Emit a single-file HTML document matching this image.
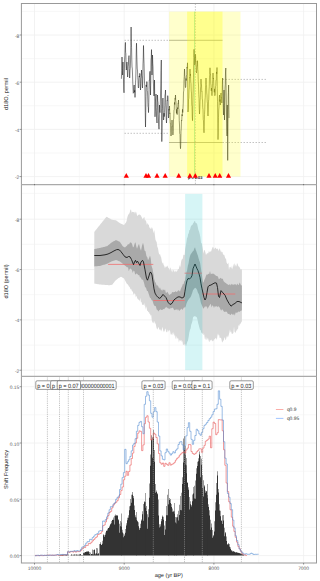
<!DOCTYPE html>
<html><head><meta charset="utf-8"><style>
html,body{margin:0;padding:0;background:#fff;}
svg{display:block;font-family:"Liberation Sans",sans-serif;text-rendering:geometricPrecision;}
</style></head><body>
<svg width="320" height="581" viewBox="0 0 320 581">
<rect width="320" height="581" fill="#fff"/>
<g id="p1">
<line x1="21.4" x2="316.5" y1="11.4" y2="11.4" stroke="#f4f4f4" stroke-width="0.7"/>
<line x1="21.4" x2="316.5" y1="58.6" y2="58.6" stroke="#f4f4f4" stroke-width="0.7"/>
<line x1="21.4" x2="316.5" y1="105.8" y2="105.8" stroke="#f4f4f4" stroke-width="0.7"/>
<line x1="21.4" x2="316.5" y1="153" y2="153" stroke="#f4f4f4" stroke-width="0.7"/>
<line x1="79.35" x2="79.35" y1="3.5" y2="184.7" stroke="#f4f4f4" stroke-width="0.7"/>
<line x1="169.05" x2="169.05" y1="3.5" y2="184.7" stroke="#f4f4f4" stroke-width="0.7"/>
<line x1="258.75" x2="258.75" y1="3.5" y2="184.7" stroke="#f4f4f4" stroke-width="0.7"/>
<line x1="21.4" x2="316.5" y1="35" y2="35" stroke="#efefef" stroke-width="0.8"/>
<line x1="21.4" x2="316.5" y1="82.2" y2="82.2" stroke="#efefef" stroke-width="0.8"/>
<line x1="21.4" x2="316.5" y1="129.4" y2="129.4" stroke="#efefef" stroke-width="0.8"/>
<line x1="21.4" x2="316.5" y1="176.6" y2="176.6" stroke="#efefef" stroke-width="0.8"/>
<line x1="34.5" x2="34.5" y1="3.5" y2="184.7" stroke="#efefef" stroke-width="0.8"/>
<line x1="124.2" x2="124.2" y1="3.5" y2="184.7" stroke="#efefef" stroke-width="0.8"/>
<line x1="213.9" x2="213.9" y1="3.5" y2="184.7" stroke="#efefef" stroke-width="0.8"/>
<line x1="303.6" x2="303.6" y1="3.5" y2="184.7" stroke="#efefef" stroke-width="0.8"/>
<line x1="195.4" x2="195.4" y1="3.5" y2="184.7" stroke="#9a9a9a" stroke-width="0.6" stroke-dasharray="1.4 1.4"/>
<line x1="194.5" x2="194.5" y1="11.6" y2="176.6" stroke="#20c8a0" stroke-width="0.8" opacity="0.5"/>
<g stroke="#9a9a9a" stroke-width="0.6" stroke-dasharray="1.5 1.5">
<line x1="124.5" x2="169" y1="40.3" y2="40.3"/>
<line x1="124.5" x2="169" y1="133.3" y2="133.3"/>
<line x1="222.5" x2="267.5" y1="79.4" y2="79.4"/>
<line x1="222.5" x2="267.5" y1="142.5" y2="142.5"/>
</g>
<g stroke="#8a8a8a" stroke-width="0.7">
<line x1="169" x2="222.5" y1="40.3" y2="40.3"/>
<line x1="169" x2="222.5" y1="142.5" y2="142.5"/>
</g>
<path d="M121.4,78.8 L121.7,70.26 L122,57 L122.3,68.62 L122.6,75 L122.8,71.24 L123,62 L123.25,74.07 L123.5,80 L123.75,89.02 L124,92.8 L124.3,79.43 L124.6,60 L124.87,55.16 L125.13,46.26 L125.4,42.4 L125.62,52.37 L125.85,53.79 L126.08,66.08 L126.3,70 L126.53,68.55 L126.77,62.66 L127,62 L127.3,71.01 L127.6,77 L127.83,75.18 L128.07,66.75 L128.3,65 L128.53,62.86 L128.77,57.29 L129,55.6 L129.3,68.39 L129.6,78 L129.8,77.01 L130,70 L130.25,68.68 L130.5,62 L130.8,45.82 L131.1,27 L131.33,40.75 L131.57,47.73 L131.8,60 L132.03,67.01 L132.27,68.09 L132.5,74 L132.75,81.96 L133,88 L133.25,93.26 L133.5,92.7 L133.73,91.56 L133.97,86.12 L134.2,85 L134.47,92.29 L134.73,90.35 L135,97.4 L135.23,93.21 L135.47,82.69 L135.7,80 L135.97,69.9 L136.23,52.99 L136.5,43.2 L136.75,54.02 L137,62 L137.25,69.07 L137.5,70 L137.75,77.51 L138,80 L138.25,87.13 L138.5,88 L138.73,86.96 L138.97,78.37 L139.2,76 L139.47,77.1 L139.73,73.33 L140,74 L140.25,83.29 L140.5,90 L140.75,86.11 L141,78.36 L141.25,77.31 L141.5,70 L141.75,75.47 L142,76.52 L142.25,85.22 L142.5,88 L142.75,79.03 L143,63.96 L143.25,58.16 L143.5,45.5 L143.77,57 L144.03,63.13 L144.3,75 L144.53,83.21 L144.77,85.25 L145,92 L145.25,112.64 L145.5,127 L145.73,114.01 L145.97,96.36 L146.2,85 L146.47,86.72 L146.73,81.73 L147,81.6 L147.27,90.46 L147.53,92.09 L147.8,100 L148.03,106.46 L148.27,107.42 L148.5,112.6 L148.77,102.8 L149.03,89.5 L149.3,80 L149.53,80.2 L149.77,72.8 L150,71.3 L150.25,85.8 L150.5,95 L150.75,80.54 L151,60 L151.25,57.87 L151.5,49.6 L151.75,64.03 L152,75 L152.25,66.75 L152.5,55 L152.75,63.14 L153,67 L153.25,78.7 L153.5,85 L153.75,91.7 L154,96 L154.25,90.64 L154.5,80 L154.75,101.15 L155,116.8 L155.25,111.29 L155.5,100 L155.75,98.04 L156,94 L156.25,107.58 L156.5,115 L156.75,120.16 L157,123 L157.25,110.72 L157.5,95 L157.75,100.98 L158,102.3 L158.25,114.17 L158.5,120 L158.75,126.32 L159,129.2 L159.25,120.13 L159.5,105 L159.75,110.98 L160,112.6 L160.25,105.46 L160.5,95 L160.77,85 L161.03,70.31 L161.3,60 L161.55,101.94 L161.8,141.6 L162.05,127.09 L162.3,110 L162.53,108.5 L162.77,98.81 L163,98 L163.25,110.32 L163.5,120 L163.75,119.22 L164,113.13 L164.25,116.61 L164.5,112.6 L164.75,105.67 L165,95 L165.25,93.99 L165.5,90 L165.75,102.29 L166,110 L166.25,119.31 L166.5,123 L166.73,117.31 L166.97,105.76 L167.2,100 L167.47,100.42 L167.73,95.65 L168,98 L168.25,109.03 L168.5,118 L168.75,117.07 L169,109.16 L169.25,110.25 L169.5,106 L169.75,113.6 L170,112.91 L170.25,123.37 L170.5,123.27 L170.75,132.2 L171,136 L171.25,133.93 L171.5,126.71 L171.75,126.85 L172,120 L172.25,125.37 L172.5,125.52 L172.75,134.45 L173,135 L173.25,131.62 L173.5,119.35 L173.75,118.23 L174,110 L174.25,109.55 L174.5,102.41 L174.75,104.53 L175,98.39 L175.25,99.36 L175.5,95 L175.73,100.62 L175.97,101.86 L176.2,108 L176.47,113.34 L176.73,109.22 L177,114.5 L177.25,114.45 L177.5,107.59 L177.75,108.97 L178,103.67 L178.25,103.99 L178.5,100 L178.75,108.96 L179,109.6 L179.25,120.52 L179.5,125 L179.75,133.65 L180,134.15 L180.25,145.29 L180.5,148.7 L180.75,143.97 L181,131.69 L181.25,128.95 L181.5,120 L181.75,120.54 L182,114.41 L182.25,116.05 L182.5,109.32 L182.75,112.51 L183,108 L183.25,103.12 L183.5,91.92 L183.75,90.92 L184,79.74 L184.25,76.49 L184.5,69 L184.75,75.84 L185,76.78 L185.25,85.41 L185.5,87.6 L185.75,86.45 L186,78.51 L186.25,80.56 L186.5,75 L186.75,74.7 L187,67.16 L187.25,68.25 L187.5,62.8 L187.75,90.01 L188,112 L188.25,109.32 L188.5,99.26 L188.75,98.35 L189,90 L189.25,87.66 L189.5,77 L189.75,77.4 L190,69 L190.25,75.73 L190.5,74.13 L190.75,82.02 L191,83.5 L191.25,91.03 L191.5,93.07 L191.75,105.16 L192,106.27 L192.25,117.01 L192.5,120.7 L192.73,113.04 L192.97,97.64 L193.2,90 L193.47,77.78 L193.73,60.16 L194,49.3 L194.27,56.79 L194.53,57.32 L194.8,65 L195.03,63.37 L195.27,55.58 L195.5,54.4 L195.75,61.75 L196,61.31 L196.25,70.92 L196.5,73 L196.75,70.95 L197,65.53 L197.25,65.72 L197.5,60.7 L197.75,69.19 L198,71.4 L198.25,81.42 L198.5,85 L198.75,94.62 L199,98.45 L199.25,108.77 L199.5,114 L199.75,109.63 L200,101.25 L200.25,97.76 L200.5,89 L200.75,86.2 L201,79 L201.25,83.89 L201.5,84.96 L201.75,91.5 L202,91.19 L202.25,98.83 L202.5,100 L202.75,107.75 L203,109.44 L203.25,119.38 L203.5,120.91 L203.75,129.2 L204,132.8 L204.25,126.18 L204.5,114.52 L204.75,109.42 L205,100 L205.25,97.32 L205.5,87.2 L205.75,84.54 L206,78 L206.25,84.58 L206.5,85.33 L206.75,92.93 L207,95 L207.25,101.97 L207.5,103.24 L207.75,113.86 L208,116 L208.25,112.29 L208.5,101.1 L208.75,99.28 L209,90 L209.25,86.85 L209.5,77.11 L209.75,74.63 L210,67.8 L210.25,74.39 L210.5,74.18 L210.75,83.8 L211,85 L211.25,90.8 L211.5,88.03 L211.75,94.77 L212,95.7 L212.25,92.99 L212.5,83.39 L212.75,79.88 L213,73 L213.25,78.98 L213.5,78.16 L213.75,85.53 L214,88 L214.25,92.29 L214.5,88.89 L214.75,95.58 L215,95.7 L215.25,93.7 L215.5,86.38 L215.75,85.54 L216,80 L216.25,80.01 L216.5,71.94 L216.75,73.74 L217,67.5 L217.25,88.53 L217.5,101.26 L217.75,123.12 L218,139.6 L218.23,132.89 L218.47,117.79 L218.7,110 L218.97,106.89 L219.23,98.33 L219.5,95 L219.77,101.5 L220.03,99.61 L220.3,105 L220.53,102.6 L220.77,94.97 L221,93 L221.27,97.57 L221.53,97.31 L221.8,103 L222.07,96.62 L222.33,84.72 L222.6,78 L222.8,89.21 L223,95 L223.25,107.81 L223.5,115 L223.75,103.49 L224,90 L224.25,107.15 L224.5,120 L224.75,105.57 L225,88 L225.27,84.39 L225.53,71.96 L225.8,68 L226.05,85.51 L226.3,100 L226.5,114.06 L226.7,125 L226.85,131.81 L227,136 L227.15,123.67 L227.3,105 L227.5,134.32 L227.7,160.4 L227.85,142.52 L228,120 L228.15,109.52 L228.3,95 L228.45,92.4 L228.6,85 L228.8,103.81 L229,118" fill="none" stroke="#111" stroke-width="0.5" stroke-linejoin="miter"/>
<rect x="169.2" y="11.6" width="71.3" height="165" fill="#ffff00" opacity="0.2"/>
<rect x="187.1" y="11.6" width="35.4" height="165" fill="#ffff00" opacity="0.3"/>
<text x="188" y="179.3" font-size="4" font-weight="bold" fill="#111" textLength="14.3" lengthAdjust="spacingAndGlyphs">p = 0.03</text>
<path d="M123.7,177.7 L128.9,177.7 L126.3,173.1 Z" fill="#ff0000"/>
<path d="M143.4,177.7 L148.6,177.7 L146,173.1 Z" fill="#ff0000"/>
<path d="M145.9,177.7 L151.1,177.7 L148.5,173.1 Z" fill="#ff0000"/>
<path d="M154.4,177.7 L159.6,177.7 L157,173.1 Z" fill="#ff0000"/>
<path d="M162.6,177.7 L167.8,177.7 L165.2,173.1 Z" fill="#ff0000"/>
<path d="M176.15,177.7 L181.35,177.7 L178.75,173.1 Z" fill="#ff0000"/>
<path d="M187.3,177.7 L192.5,177.7 L189.9,173.1 Z" fill="#ff0000"/>
<path d="M192.7,177.7 L197.9,177.7 L195.3,173.1 Z" fill="#ff0000"/>
<path d="M206.4,177.7 L211.6,177.7 L209,173.1 Z" fill="#ff0000"/>
<path d="M212.65,177.7 L217.85,177.7 L215.25,173.1 Z" fill="#ff0000"/>
<path d="M217.15,177.7 L222.35,177.7 L219.75,173.1 Z" fill="#ff0000"/>
<path d="M225.9,177.7 L231.1,177.7 L228.5,173.1 Z" fill="#ff0000"/>
</g>
<g id="p2">
<line x1="21.4" x2="316.5" y1="193.4" y2="193.4" stroke="#f4f4f4" stroke-width="0.7"/>
<line x1="21.4" x2="316.5" y1="244.37" y2="244.37" stroke="#f4f4f4" stroke-width="0.7"/>
<line x1="21.4" x2="316.5" y1="294.71" y2="294.71" stroke="#f4f4f4" stroke-width="0.7"/>
<line x1="21.4" x2="316.5" y1="345.05" y2="345.05" stroke="#f4f4f4" stroke-width="0.7"/>
<line x1="79.35" x2="79.35" y1="184.7" y2="376.3" stroke="#f4f4f4" stroke-width="0.7"/>
<line x1="169.05" x2="169.05" y1="184.7" y2="376.3" stroke="#f4f4f4" stroke-width="0.7"/>
<line x1="258.75" x2="258.75" y1="184.7" y2="376.3" stroke="#f4f4f4" stroke-width="0.7"/>
<line x1="21.4" x2="316.5" y1="219.2" y2="219.2" stroke="#efefef" stroke-width="0.8"/>
<line x1="21.4" x2="316.5" y1="269.54" y2="269.54" stroke="#efefef" stroke-width="0.8"/>
<line x1="21.4" x2="316.5" y1="319.88" y2="319.88" stroke="#efefef" stroke-width="0.8"/>
<line x1="21.4" x2="316.5" y1="370.22" y2="370.22" stroke="#efefef" stroke-width="0.8"/>
<line x1="34.5" x2="34.5" y1="184.7" y2="376.3" stroke="#efefef" stroke-width="0.8"/>
<line x1="124.2" x2="124.2" y1="184.7" y2="376.3" stroke="#efefef" stroke-width="0.8"/>
<line x1="213.9" x2="213.9" y1="184.7" y2="376.3" stroke="#efefef" stroke-width="0.8"/>
<line x1="303.6" x2="303.6" y1="184.7" y2="376.3" stroke="#efefef" stroke-width="0.8"/>
<path d="M94.3,231.9 L94.85,231.21 L95.41,230.52 L95.96,229.83 L96.52,229.14 L97.07,228.45 L97.63,227.75 L98.18,227.06 L98.74,226.37 L99.29,225.68 L99.85,224.99 L100.4,224.3 L100.95,223.61 L101.51,222.92 L102.06,222.23 L102.62,221.54 L103.17,220.85 L103.73,220.15 L104.28,219.46 L104.84,218.77 L105.39,218.08 L105.95,217.39 L106.5,216.7 L107.05,217.01 L107.6,217.32 L108.15,217.63 L108.7,217.94 L109.25,218.25 L109.8,218.56 L110.35,218.87 L110.9,219.18 L111.45,219.49 L112,219.8 L112.57,219.87 L113.14,219.94 L113.71,220.01 L114.29,220.09 L114.86,220.16 L115.43,220.23 L116,220.3 L116.57,220.73 L117.14,221.16 L117.71,221.59 L118.29,222.01 L118.86,222.44 L119.43,222.87 L120,223.3 L120.57,223.54 L121.14,223.79 L121.71,224.03 L122.29,224.27 L122.86,224.51 L123.43,224.76 L124,225 L124.67,224.13 L125.33,223.27 L126,222.4 L126.67,220.67 L127.33,217.27 L128,215.25 L128.75,213.88 L129.5,213.35 L130.25,210.17 L131,209.24 L131.67,212.66 L132.33,211.76 L133,212.02 L133.67,212.26 L134.33,211.77 L135,214.08 L135.67,211.62 L136.33,212.6 L137,215.3 L137.67,215.97 L138.33,214.86 L139,214.8 L139.67,214.49 L140.33,214.97 L141,215.64 L141.55,216.93 L142.1,217.88 L142.65,219.25 L143.2,218.5 L143.75,217.56 L144.38,217.1 L145,221.12 L145.62,219.72 L146.25,221.69 L146.88,225.02 L147.5,222.66 L148.12,225.29 L148.75,224.07 L149.38,228.07 L150,227.16 L150.62,229.12 L151.25,228.74 L151.88,226.97 L152.5,228.52 L153.12,230.48 L153.75,233.22 L154.31,229.66 L154.88,235.21 L155.44,239.44 L156,241.07 L156.67,241.98 L157.33,246.77 L158,248.13 L158.67,252.52 L159.33,254.74 L160,254.02 L160.6,256.35 L161.2,257.45 L161.8,261.21 L162.4,263.84 L163,262.22 L163.67,264.91 L164.33,265.97 L165,268.59 L165.56,266.52 L166.11,266.82 L166.67,266.76 L167.22,265.61 L167.78,266.45 L168.33,267.95 L168.89,268.2 L169.44,270.54 L170,267.99 L170.56,267.56 L171.11,271.78 L171.67,270.12 L172.22,269.73 L172.78,272.41 L173.33,270.3 L173.89,269.74 L174.44,271.44 L175,272.49 L175.56,270.87 L176.11,270.58 L176.67,272.27 L177.22,270.71 L177.78,269.82 L178.33,268.83 L178.89,269.17 L179.44,264.79 L180,267.48 L180.57,265.7 L181.14,261.38 L181.71,259.45 L182.29,259.2 L182.86,258.16 L183.43,254.76 L184,254.82 L184.6,255.16 L185.2,248.83 L185.8,245.5 L186.4,242.48 L187,238.01 L187.6,237.28 L188.2,234.11 L188.8,233.36 L189.4,230 L190,229.95 L190.6,227.16 L191.2,225.63 L191.8,225.23 L192.4,224.99 L193,223.39 L193.67,222.64 L194.33,221.22 L195,221.12 L195.67,223 L196.33,223.16 L197,223.52 L197.67,226.42 L198.33,229.64 L199,231.55 L199.67,233.89 L200.33,236.99 L201,242.67 L201.67,243.15 L202.33,246.01 L203,249.89 L203.6,253.63 L204.2,249.94 L204.8,250.36 L205.4,252.55 L206,255.06 L206.57,254.05 L207.14,253.04 L207.71,253.45 L208.29,253.22 L208.86,250.91 L209.43,252.55 L210,251.1 L210.57,251.66 L211.14,251.54 L211.71,249.5 L212.29,247.95 L212.86,246.7 L213.43,247.23 L214,249.49 L214.57,248.49 L215.14,247.92 L215.71,247.51 L216.29,249.08 L216.86,248.74 L217.43,248.47 L218,249.39 L218.57,251.16 L219.14,248.48 L219.71,248.63 L220.29,252 L220.86,249.22 L221.43,252.51 L222,251.76 L222.57,252.36 L223.14,255.14 L223.71,254.18 L224.29,255 L224.86,256.92 L225.43,258.79 L226,258.42 L226.6,262.43 L227.2,263.84 L227.8,263.88 L228.4,262.62 L229,270.52 L229.6,266.7 L230.2,267.82 L230.8,266.59 L231.4,268.82 L232,265.34 L232.6,269.39 L233.2,266.29 L233.8,264.19 L234.4,263.35 L235,267.01 L235.67,264.34 L236.33,266.66 L237,262.89 L237.67,264.07 L238.33,266.32 L239,266.52 L239.58,267.27 L240.16,268.38 L240.74,269.58 L241.32,269.12 L241.9,269.7 L241.9,322 L241.34,321.49 L240.79,324.52 L240.23,322.9 L239.67,324.46 L239.11,326.37 L238.56,324.81 L238,329.14 L237.43,328.69 L236.86,331.57 L236.29,329.51 L235.71,333.04 L235.14,332.28 L234.57,331.96 L234,326.48 L233.43,332.86 L232.86,333.69 L232.29,333.76 L231.71,333.76 L231.14,331.17 L230.57,332.42 L230,329.22 L229.43,332.27 L228.86,334.6 L228.29,336.4 L227.71,337.61 L227.14,335.52 L226.57,337.1 L226,339.51 L225.43,340.35 L224.86,337.35 L224.29,337.99 L223.71,341.08 L223.14,340.25 L222.57,342.38 L222,342.11 L221.43,339.34 L220.86,337.61 L220.29,338.08 L219.71,338.03 L219.14,334.95 L218.57,335.42 L218,333.14 L217.43,335.63 L216.86,340.05 L216.29,338.38 L215.71,337.76 L215.14,338.69 L214.57,339.33 L214,339.5 L213.43,340.98 L212.86,340.71 L212.29,341.44 L211.71,339.28 L211.14,340.83 L210.57,339.8 L210,341.32 L209.43,342.29 L208.86,338.06 L208.29,341.63 L207.71,337.6 L207.14,339.66 L206.57,339.72 L206,336.19 L205.4,339.86 L204.8,338.63 L204.2,334.35 L203.6,335.28 L203,332.62 L202.4,334.19 L201.8,333.01 L201.2,332.38 L200.6,329.99 L200,329.79 L199.4,327.76 L198.8,325.17 L198.2,323.36 L197.6,320.31 L197,317.79 L196.33,316.85 L195.67,316.7 L195,315.77 L194.33,316.39 L193.67,316.54 L193,317.5 L192.4,321.28 L191.8,323.22 L191.2,324.68 L190.6,328.48 L190,329.81 L189.33,332.44 L188.67,336.82 L188,340.39 L187.33,341.84 L186.67,343.97 L186,346.51 L185.4,344.46 L184.8,343.64 L184.2,345.84 L183.6,344.51 L183,345.08 L182.4,340.92 L181.8,341.91 L181.2,339.68 L180.6,341.15 L180,339.48 L179.44,340.42 L178.89,342.58 L178.33,338.65 L177.78,337.48 L177.22,339.16 L176.67,335.86 L176.11,338.99 L175.56,338.48 L175,334.81 L174.44,336.56 L173.89,331.74 L173.33,335.11 L172.78,332.29 L172.22,335.2 L171.67,333.45 L171.11,335.37 L170.56,333.63 L170,330.58 L169.44,329.86 L168.89,331.64 L168.33,330.72 L167.78,329.47 L167.22,332.24 L166.67,332.27 L166.11,331.39 L165.56,328.55 L165,328.96 L164.44,331.89 L163.89,330.16 L163.33,332.47 L162.78,326.85 L162.22,328.6 L161.67,329.98 L161.11,331.38 L160.56,329.84 L160,329.22 L159.38,330.04 L158.75,327.19 L158.12,327.52 L157.5,329.42 L156.94,329.06 L156.38,327.32 L155.81,324.13 L155.25,323.34 L154.69,320.76 L154.12,323.62 L153.56,323.01 L153,320.9 L152.4,323.16 L151.8,320.29 L151.2,314.82 L150.63,315.7 L150.07,313.96 L149.5,313.69 L148.93,311.75 L148.37,312.61 L147.8,310.79 L147.22,311.12 L146.63,307.89 L146.05,306.26 L145.47,309.65 L144.88,302.6 L144.3,306.3 L143.75,304.15 L143.2,305.12 L142.65,304.68 L142.1,304.72 L141.55,301.52 L141,302.82 L140.32,297.87 L139.65,301.5 L138.98,299.39 L138.3,299.68 L137.69,299.1 L137.07,297.68 L136.46,295.44 L135.84,297.62 L135.23,294.02 L134.61,293.18 L134,294.27 L133.43,294.44 L132.86,291.34 L132.29,291.85 L131.71,290.56 L131.14,288.66 L130.57,289.47 L130,287.75 L129.4,286.67 L128.8,286.35 L128.2,285.04 L127.6,284.37 L127,284 L126.4,282.88 L125.8,281.76 L125.2,280.64 L124.6,279.52 L124,278.4 L123.4,278.06 L122.8,277.72 L122.2,277.38 L121.6,277.04 L121,276.7 L120.4,277.04 L119.8,277.38 L119.2,277.72 L118.6,278.06 L118,278.4 L117.4,278.92 L116.8,279.44 L116.2,279.96 L115.6,280.48 L115,281 L114.38,281.88 L113.75,282.75 L113.12,283.62 L112.5,284.5 L111.88,284.7 L111.25,284.9 L110.62,285.1 L110,285.3 L109.44,285.26 L108.89,285.21 L108.33,285.17 L107.78,285.12 L107.22,285.08 L106.67,285.03 L106.11,284.99 L105.56,284.94 L105,284.9 L104.44,284.86 L103.89,284.81 L103.33,284.77 L102.78,284.72 L102.22,284.68 L101.67,284.63 L101.11,284.59 L100.56,284.54 L100,284.5 L99.43,284.41 L98.86,284.32 L98.29,284.23 L97.72,284.14 L97.15,284.05 L96.58,283.96 L96.01,283.87 L95.44,283.78 L94.87,283.69 L94.3,283.6 Z" fill="#d9d9d9"/>
<path d="M94.3,249.1 L95.01,248.95 L95.72,248.8 L96.44,248.65 L97.15,248.5 L97.86,248.35 L98.58,248.2 L99.29,248.05 L100,247.9 L100.7,247.73 L101.4,247.56 L102.1,247.39 L102.8,247.22 L103.5,247.05 L104.2,246.88 L104.9,246.71 L105.6,246.54 L106.3,246.37 L107,246.2 L107.71,245.63 L108.43,245.06 L109.14,244.49 L109.86,243.91 L110.57,243.34 L111.29,242.77 L112,242.2 L112.8,241.76 L113.6,241.32 L114.4,240.88 L115.2,240.44 L116,240 L116.8,240.4 L117.6,240.8 L118.4,241.2 L119.2,241.6 L120,242 L120.75,243.15 L121.5,244.3 L122.25,245.45 L123,246.6 L124,247.05 L125,247.5 L126,246.6 L127,245.7 L128,244.05 L129,244.39 L130,242.49 L131,242.48 L132,243.74 L133,247.42 L133.83,246.46 L134.67,243.56 L135.5,242.14 L136.25,246.21 L137,248.68 L138,245.91 L139,243.8 L140,248.02 L141,250.68 L142,245.7 L143,242.63 L143.75,245.6 L144.5,250.41 L145.5,251.35 L146.5,256.24 L147.25,256.93 L148,260.28 L149,258.17 L150,255.6 L150.75,258.45 L151.5,265.8 L152.5,268.72 L153.33,273.23 L154.17,278.83 L155,281.81 L155.83,283.08 L156.67,285.54 L157.5,285.31 L158.33,286.44 L159.17,288.63 L160,287.17 L160.71,289.45 L161.43,289.71 L162.14,290.99 L162.86,289.19 L163.57,289.65 L164.29,290.4 L165,289.16 L165.71,292.5 L166.43,292.89 L167.14,291.82 L167.86,292.43 L168.57,294.03 L169.29,294.93 L170,294.55 L170.71,294.09 L171.43,293.87 L172.14,292.09 L172.86,292.15 L173.57,292.33 L174.29,291.92 L175,291.88 L175.71,291.05 L176.43,292.08 L177.14,291.63 L177.86,290.79 L178.57,290.25 L179.29,290.84 L180,291.66 L180.71,289.26 L181.43,287.59 L182.14,286.36 L182.86,283.9 L183.57,284.29 L184.29,281.34 L185,280.46 L185.71,276.35 L186.43,272.83 L187.14,269.9 L187.86,265.85 L188.57,263.28 L189.29,258.75 L190,256.02 L190.71,254.29 L191.43,253.22 L192.14,252.14 L192.86,251.31 L193.57,250.63 L194.29,248.54 L195,247.34 L195.71,249.66 L196.43,251.53 L197.14,253.85 L197.86,255.58 L198.57,258.2 L199.29,260.7 L200,262.4 L200.75,267.25 L201.5,271.94 L202.25,277.53 L203,282.7 L203.75,281.85 L204.5,279.41 L205.25,277.97 L206,275.86 L206.8,274.25 L207.6,274.69 L208.4,273.87 L209.2,273.89 L210,271.11 L210.8,274.2 L211.6,273.72 L212.4,273.67 L213.2,273.48 L214,274.28 L214.8,274.61 L215.6,275.48 L216.4,276.06 L217.2,275.96 L218,276.85 L218.8,279.27 L219.6,278.82 L220.4,277.75 L221.2,278.41 L222,278.85 L222.8,278.67 L223.6,281.16 L224.4,282.05 L225.2,282.79 L226,282.94 L226.8,284.02 L227.6,284.26 L228.4,285.12 L229.2,284.7 L230,284.05 L230.8,285.49 L231.6,283.82 L232.4,284.41 L233.2,284.71 L234,284.62 L234.8,284.25 L235.6,284.35 L236.4,285.59 L237.2,283.47 L238,284.8 L238.78,285.05 L239.56,282.58 L240.34,283.8 L241.12,285.65 L241.9,284.8 L241.9,310.3 L241.12,310.83 L240.34,311.09 L239.56,312.12 L238.78,311.27 L238,312.31 L237.2,312.49 L236.4,312.76 L235.6,312.42 L234.8,315.8 L234,313.62 L233.2,314.95 L232.4,314.39 L231.6,313.5 L230.8,314.66 L230,314.88 L229.2,313.72 L228.4,313.96 L227.6,313.5 L226.8,311.59 L226,312.06 L225.2,311.6 L224.4,311.88 L223.6,311.28 L222.8,309.87 L222,309.14 L221.2,310.76 L220.4,309.2 L219.6,307.52 L218.8,306.59 L218,306.33 L217.2,307.21 L216.4,306.02 L215.6,306.82 L214.8,305.95 L214,308.08 L213.2,305.93 L212.4,305.25 L211.6,307.45 L210.8,303.78 L210,304.79 L209.2,306.04 L208.4,307.19 L207.6,308.93 L206.8,306.1 L206,307.41 L205.25,306.05 L204.5,306.92 L203.75,308.64 L203,307.7 L202,305.45 L201,303.22 L200,298.92 L199,294.5 L198,292.8 L197,289.75 L196,288.22 L195,287.85 L194,289.01 L193,290.29 L192,293.48 L191,296.23 L190.25,297.45 L189.5,298.31 L188.75,299.28 L188,300.29 L187.25,301.76 L186.5,303.49 L185.75,306.29 L185,307.85 L184.29,307.3 L183.57,308.02 L182.86,309.45 L182.14,309.77 L181.43,308.54 L180.71,309.41 L180,309.95 L179.29,311.1 L178.57,309.88 L177.86,309.12 L177.14,310.51 L176.43,309.23 L175.71,309.43 L175,310.19 L174.29,310.09 L173.57,308.88 L172.86,307.61 L172.14,307.89 L171.43,308.32 L170.71,307.63 L170,309.21 L169.29,308.46 L168.57,308.87 L167.86,307.53 L167.14,308.45 L166.43,306.74 L165.71,307.44 L165,307.93 L164.29,309.37 L163.57,308.9 L162.86,309.44 L162.14,309.9 L161.43,309.91 L160.71,309.15 L160,309.7 L159.17,310.17 L158.33,311.42 L157.5,310 L156.67,309.47 L155.83,306.3 L155,306.05 L154.17,305.54 L153.33,303.56 L152.5,300.51 L151.67,300.35 L150.83,298.17 L150,297.78 L149.25,295.58 L148.5,293.3 L147.75,290.96 L147,290.89 L146,287.81 L145,286.9 L144,282.63 L143,279.84 L142.25,279.75 L141.5,279.16 L140.75,277.21 L140,277.43 L139.2,274.95 L138.4,275.34 L137.6,274.33 L136.8,273.39 L136,273.79 L135.2,274.8 L134.4,271.33 L133.6,270.59 L132.8,273.09 L132,270.2 L131.2,268.97 L130.4,268.5 L129.6,269.02 L128.8,271.3 L128,267.01 L127.2,267.38 L126.4,266.74 L125.6,266.06 L124.8,265.38 L124,264.7 L123.2,264.06 L122.4,263.42 L121.6,262.78 L120.8,262.14 L120,261.5 L119.2,261.2 L118.4,260.9 L117.6,260.6 L116.8,260.3 L116,260 L115.2,260.24 L114.4,260.48 L113.6,260.72 L112.8,260.96 L112,261.2 L111.29,261.57 L110.57,261.94 L109.86,262.31 L109.14,262.69 L108.43,263.06 L107.71,263.43 L107,263.8 L106.3,264.01 L105.6,264.22 L104.9,264.43 L104.2,264.64 L103.5,264.85 L102.8,265.06 L102.1,265.27 L101.4,265.48 L100.7,265.69 L100,265.9 L99.29,265.96 L98.58,266.02 L97.86,266.09 L97.15,266.15 L96.44,266.21 L95.72,266.27 L95.01,266.34 L94.3,266.4 Z" fill="#a9a9a9"/>
<g stroke="#f07070" stroke-width="0.8">
<line x1="108.1" x2="153.3" y1="264.4" y2="264.4"/>
<line x1="153.3" x2="184.6" y1="300.5" y2="300.5"/>
<line x1="184.6" x2="201.9" y1="273.2" y2="273.2"/>
<line x1="201.9" x2="235.3" y1="294" y2="294"/>
</g>
<path d="M94.3,255.5 L100,255.5 L105,254.8 L108,254 L111,252.6 L114,250.9 L116.5,249.7 L118,249.5 L119.5,250 L121,251.7 L123,254.3 L125,256.9 L127,257.5 L128.5,256.5 L130,256.8 L131.5,259.5 L132.5,262 L133.5,264.7 L134.5,262 L135.5,260.3 L136.5,262.6 L137.5,261.2 L139,263.8 L140,265.5 L141,262 L142.5,260.3 L143.5,262 L145,269.8 L146.5,278.4 L147.5,280.2 L149,275.9 L150,272.4 L151,272.4 L152,275 L153,281.9 L154,288.8 L155,293.1 L156.5,295.7 L158,297.4 L159.5,298.3 L161,297.4 L163,294.4 L166,297.6 L168,302.2 L170,304.5 L172,303.4 L174,299.9 L176,298.3 L178,296.9 L180,296.9 L182,298.1 L184,296.9 L185,291.25 L186,285 L187,280.6 L188,278.5 L189.5,279 L191,277.5 L192,275.6 L193,268.75 L194,266.25 L195,264 L196,266.25 L197,268.75 L198,270.6 L199,273.75 L200,277.5 L201,283.75 L202,288.75 L203,293.1 L204,297.5 L205,300 L206,298.1 L207,292.5 L208,286.9 L209,285.6 L211,285 L213,283.75 L215,282.75 L216.5,283.1 L217.5,287.5 L218.5,296.25 L219.5,297.5 L221,290.6 L223,292.9 L225,295.2 L227,299.9 L229,303.4 L231,306.2 L233,304.5 L235,303.4 L237,301.5 L239,301.5 L241.9,302.9" fill="none" stroke="#111" stroke-width="0.85" stroke-linejoin="round"/>
<rect x="185.1" y="193.9" width="17.3" height="176.2" fill="#00bfc4" opacity="0.16"/>
</g>
<g id="p3">
<line x1="21.4" x2="316.5" y1="527.45" y2="527.45" stroke="#f4f4f4" stroke-width="0.7"/>
<line x1="21.4" x2="316.5" y1="471.15" y2="471.15" stroke="#f4f4f4" stroke-width="0.7"/>
<line x1="21.4" x2="316.5" y1="414.85" y2="414.85" stroke="#f4f4f4" stroke-width="0.7"/>
<line x1="79.35" x2="79.35" y1="376.3" y2="563.0" stroke="#f4f4f4" stroke-width="0.7"/>
<line x1="169.05" x2="169.05" y1="376.3" y2="563.0" stroke="#f4f4f4" stroke-width="0.7"/>
<line x1="258.75" x2="258.75" y1="376.3" y2="563.0" stroke="#f4f4f4" stroke-width="0.7"/>
<line x1="21.4" x2="316.5" y1="555.6" y2="555.6" stroke="#efefef" stroke-width="0.8"/>
<line x1="21.4" x2="316.5" y1="499.3" y2="499.3" stroke="#efefef" stroke-width="0.8"/>
<line x1="21.4" x2="316.5" y1="443" y2="443" stroke="#efefef" stroke-width="0.8"/>
<line x1="21.4" x2="316.5" y1="386.7" y2="386.7" stroke="#efefef" stroke-width="0.8"/>
<line x1="34.5" x2="34.5" y1="376.3" y2="563.0" stroke="#efefef" stroke-width="0.8"/>
<line x1="124.2" x2="124.2" y1="376.3" y2="563.0" stroke="#efefef" stroke-width="0.8"/>
<line x1="213.9" x2="213.9" y1="376.3" y2="563.0" stroke="#efefef" stroke-width="0.8"/>
<line x1="303.6" x2="303.6" y1="376.3" y2="563.0" stroke="#efefef" stroke-width="0.8"/>
<path d="M35,555.6V555.6H35.5V555.6ZM35.5,555.6V555.6H36V555.6ZM36,555.6V555.6H36.5V555.6ZM36.5,555.6V555.6H37V555.6ZM37,555.6V555.6H37.5V555.6ZM37.5,555.6V555.6H38V555.6ZM38,555.6V555.6H38.5V555.6ZM38.5,555.6V555.6H39V555.6ZM39,555.6V555.6H39.5V555.6ZM39.5,555.6V555.6H40V555.6ZM40,555.6V555.6H40.5V555.6ZM40.5,555.6V555.6H41V555.6ZM41,555.6V555.6H41.5V555.6ZM41.5,555.6V555.6H42V555.6ZM42,555.6V555.6H42.5V555.6ZM42.5,555.6V555.6H43V555.6ZM43,555.6V555.6H43.5V555.6ZM43.5,555.6V555.6H44V555.6ZM44,555.6V555.6H44.5V555.6ZM44.5,555.6V555.6H45V555.6ZM45,555.6V555.6H45.5V555.6ZM45.5,555.6V555.6H46V555.6ZM46,555.6V555.6H46.5V555.6ZM46.5,555.6V555.6H47V555.6ZM47,555.6V555.6H47.5V555.6ZM47.5,555.6V555.6H48V555.6ZM48,555.6V555.6H48.5V555.6ZM48.5,555.6V555.6H49V555.6ZM49,555.6V555.6H49.5V555.6ZM49.5,555.6V555.6H50V555.6ZM50,555.6V555.6H50.5V555.6ZM50.5,555.6V555.6H51V555.6ZM51,555.6V555.6H51.5V555.6ZM51.5,555.6V555.6H52V555.6ZM52,555.6V555.6H52.5V555.6ZM52.5,555.6V555.6H53V555.6ZM53,555.6V555.6H53.5V555.6ZM53.5,555.6V555.6H54V555.6ZM54,555.6V555.6H54.5V555.6ZM54.5,555.6V555.6H55V555.6ZM55,555.6V555.6H55.5V555.6ZM55.5,555.6V555.6H56V555.6ZM56,555.6V555.6H56.5V555.6ZM56.5,555.6V555.6H57V555.6ZM57,555.6V555.6H57.5V555.6ZM57.5,555.6V555.6H58V555.6ZM58,555.6V555.6H58.5V555.6ZM58.5,555.6V555.6H59V555.6ZM59,555.6V555.41H59.5V555.6ZM59.5,555.6V555.11H60V555.6ZM60,555.6V554.81H60.5V555.6ZM60.5,555.6V555.37H61V555.6ZM61,555.6V555.34H61.5V555.6ZM61.5,555.6V554.78H62V555.6ZM62,555.6V554.76H62.5V555.6ZM62.5,555.6V554.87H63V555.6ZM63,555.6V555.34H63.5V555.6ZM63.5,555.6V554.73H64V555.6ZM64,555.6V555.38H64.5V555.6ZM64.5,555.6V554.71H65V555.6ZM65,555.6V554.68H65.5V555.6ZM65.5,555.6V555.34H66V555.6ZM66,555.6V554.68H66.5V555.6ZM66.5,555.6V554.65H67V555.6ZM67,555.6V555.43H67.5V555.6ZM67.5,555.6V554.59H68V555.6ZM68,555.6V555.54H68.5V555.6ZM68.5,555.6V554.58H69V555.6ZM69,555.6V555.53H69.5V555.6ZM69.5,555.6V555.43H70V555.6ZM70,555.6V555.25H70.5V555.6ZM70.5,555.6V555.59H71V555.6ZM71,555.6V554.61H71.5V555.6ZM71.5,555.6V554.58H72V555.6ZM72,555.6V554.81H72.5V555.6ZM72.5,555.6V555.54H73V555.6ZM73,555.6V555.32H73.5V555.6ZM73.5,555.6V554.51H74V555.6ZM74,555.6V554.55H74.5V555.6ZM74.5,555.6V554.56H75V555.6ZM75,555.6V555.44H75.5V555.6ZM75.5,555.6V554.5H76V555.6ZM76,555.6V554.51H76.5V555.6ZM76.5,555.6V554.52H77V555.6ZM77,555.6V554.51H77.5V555.6ZM77.5,555.6V555.33H78V555.6ZM78,555.6V554.44H78.5V555.6ZM78.5,555.6V555.26H79V555.6ZM79,555.6V554.44H79.5V555.6ZM79.5,555.6V554.41H80V555.6ZM80,555.6V554.34H80.5V555.6ZM80.5,555.6V554.1H81V555.6ZM81,555.6V555.22H81.5V555.6ZM81.5,555.6V554.98H82V555.6ZM82,555.6V555.32H82.5V555.6ZM82.5,555.6V555.12H83V555.6ZM83,555.6V553.09H83.5V555.6ZM83.5,555.6V552.88H84V555.6ZM84,555.6V553.27H84.5V555.6ZM84.5,555.6V552.22H85V555.6ZM85,555.6V551.96H85.5V555.6ZM85.5,555.6V551.92H86V555.6ZM86,555.6V551.81H86.5V555.6ZM86.5,555.6V551.56H87V555.6ZM87,555.6V551.39H87.5V555.6ZM87.5,555.6V551.39H88V555.6ZM88,555.6V551.31H88.5V555.6ZM88.5,555.6V551.53H89V555.6ZM89,555.6V554.08H89.5V555.6ZM89.5,555.6V552.07H90V555.6ZM90,555.6V552.47H90.5V555.6ZM90.5,555.6V555.24H91V555.6ZM91,555.6V553.89H91.5V555.6ZM91.5,555.6V553.89H92V555.6ZM92,555.6V549.42H92.5V555.6ZM92.5,555.6V554.33H93V555.6ZM93,555.6V549.96H93.5V555.6ZM93.5,555.6V554.39H94V555.6ZM94,555.6V550.02H94.5V555.6ZM94.5,555.6V549.28H95V555.6ZM95,555.6V553.48H95.5V555.6ZM95.5,555.6V554.62H96V555.6ZM96,555.6V548H96.5V555.6ZM96.5,555.6V553.3H97V555.6ZM97,555.6V548.3H97.5V555.6ZM97.5,555.6V554.37H98V555.6ZM98,555.6V553.29H98.5V555.6ZM98.5,555.6V553.53H99V555.6ZM99,555.6V544.04H99.5V555.6ZM99.5,555.6V555.39H100V555.6ZM100,555.6V542.22H100.5V555.6ZM100.5,555.6V543.99H101V555.6ZM101,555.6V544.88H101.5V555.6ZM101.5,555.6V544.76H102V555.6ZM102,555.6V543.8H102.5V555.6ZM102.5,555.6V540.82H103V555.6ZM103,555.6V535.34H103.5V555.6ZM103.5,555.6V534.32H104V555.6ZM104,555.6V535.34H104.5V555.6ZM104.5,555.6V536.89H105V555.6ZM105,555.6V534.73H105.5V555.6ZM105.5,555.6V532.42H106V555.6ZM106,555.6V530.83H106.5V555.6ZM106.5,555.6V530.79H107V555.6ZM107,555.6V530.6H107.5V555.6ZM107.5,555.6V528.63H108V555.6ZM108,555.6V527.9H108.5V555.6ZM108.5,555.6V528.07H109V555.6ZM109,555.6V527.15H109.5V555.6ZM109.5,555.6V525.79H110V555.6ZM110,555.6V524.57H110.5V555.6ZM110.5,555.6V523.63H111V555.6ZM111,555.6V523.28H111.5V555.6ZM111.5,555.6V520.92H112V555.6ZM112,555.6V520.03H112.5V555.6ZM112.5,555.6V519.86H113V555.6ZM113,555.6V519.69H113.5V555.6ZM113.5,555.6V517.53H114V555.6ZM114,555.6V524.49H114.5V555.6ZM114.5,555.6V515.83H115V555.6ZM115,555.6V514.41H115.5V555.6ZM115.5,555.6V515.69H116V555.6ZM116,555.6V514.95H116.5V555.6ZM116.5,555.6V515.84H117V555.6ZM117,555.6V515.47H117.5V555.6ZM117.5,555.6V515.49H118V555.6ZM118,555.6V519.17H118.5V555.6ZM118.5,555.6V520.16H119V555.6ZM119,555.6V523.65H119.5V555.6ZM119.5,555.6V532.8H120V555.6ZM120,555.6V526.23H120.5V555.6ZM120.5,555.6V520.98H121V555.6ZM121,555.6V522.43H121.5V555.6ZM121.5,555.6V526.65H122V555.6ZM122,555.6V529.67H122.5V555.6ZM122.5,555.6V532.59H123V555.6ZM123,555.6V533.38H123.5V555.6ZM123.5,555.6V537.35H124V555.6ZM124,555.6V536H124.5V555.6ZM124.5,555.6V534.52H125V555.6ZM125,555.6V532.85H125.5V555.6ZM125.5,555.6V528.88H126V555.6ZM126,555.6V525.38H126.5V555.6ZM126.5,555.6V523.2H127V555.6ZM127,555.6V520.13H127.5V555.6ZM127.5,555.6V517.77H128V555.6ZM128,555.6V517.64H128.5V555.6ZM128.5,555.6V515.36H129V555.6ZM129,555.6V510.27H129.5V555.6ZM129.5,555.6V506.18H130V555.6ZM130,555.6V505.8H130.5V555.6ZM130.5,555.6V498.97H131V555.6ZM131,555.6V502.65H131.5V555.6ZM131.5,555.6V494.81H132V555.6ZM132,555.6V494.66H132.5V555.6ZM132.5,555.6V492.03H133V555.6ZM133,555.6V496.12H133.5V555.6ZM133.5,555.6V498.22H134V555.6ZM134,555.6V505.6H134.5V555.6ZM134.5,555.6V510.1H135V555.6ZM135,555.6V515.34H135.5V555.6ZM135.5,555.6V517.32H136V555.6ZM136,555.6V517.56H136.5V555.6ZM136.5,555.6V519.89H137V555.6ZM137,555.6V520.68H137.5V555.6ZM137.5,555.6V521.56H138V555.6ZM138,555.6V522.31H138.5V555.6ZM138.5,555.6V526.25H139V555.6ZM139,555.6V529.95H139.5V555.6ZM139.5,555.6V528.34H140V555.6ZM140,555.6V527.89H140.5V555.6ZM140.5,555.6V523.8H141V555.6ZM141,555.6V520.67H141.5V555.6ZM141.5,555.6V519.42H142V555.6ZM142,555.6V514.31H142.5V555.6ZM142.5,555.6V511.13H143V555.6ZM143,555.6V520.69H143.5V555.6ZM143.5,555.6V503.89H144V555.6ZM144,555.6V502.3H144.5V555.6ZM144.5,555.6V501.34H145V555.6ZM145,555.6V507.64H145.5V555.6ZM145.5,555.6V501.95H146V555.6ZM146,555.6V505.98H146.5V555.6ZM146.5,555.6V511.05H147V555.6ZM147,555.6V514.2H147.5V555.6ZM147.5,555.6V528.8H148V555.6ZM148,555.6V517.21H148.5V555.6ZM148.5,555.6V509.23H149V555.6ZM149,555.6V497.7H149.5V555.6ZM149.5,555.6V483.51H150V555.6ZM150,555.6V465.82H150.5V555.6ZM150.5,555.6V454.55H151V555.6ZM151,555.6V439.85H151.5V555.6ZM151.5,555.6V435.16H152V555.6ZM152,555.6V437.3H152.5V555.6ZM152.5,555.6V457.86H153V555.6ZM153,555.6V430.1H153.5V555.6ZM153.5,555.6V437.5H154V555.6ZM154,555.6V450.1H154.5V555.6ZM154.5,555.6V461.87H155V555.6ZM155,555.6V492.63H155.5V555.6ZM155.5,555.6V484.04H156V555.6ZM156,555.6V491.96H156.5V555.6ZM156.5,555.6V490.38H157V555.6ZM157,555.6V494.31H157.5V555.6ZM157.5,555.6V493.36H158V555.6ZM158,555.6V499.49H158.5V555.6ZM158.5,555.6V515.4H159V555.6ZM159,555.6V524.35H159.5V555.6ZM159.5,555.6V527.48H160V555.6ZM160,555.6V526.47H160.5V555.6ZM160.5,555.6V524.22H161V555.6ZM161,555.6V521.35H161.5V555.6ZM161.5,555.6V518.89H162V555.6ZM162,555.6V516.65H162.5V555.6ZM162.5,555.6V515.6H163V555.6ZM163,555.6V516.75H163.5V555.6ZM163.5,555.6V519.79H164V555.6ZM164,555.6V525.59H164.5V555.6ZM164.5,555.6V535.04H165V555.6ZM165,555.6V529.56H165.5V555.6ZM165.5,555.6V521.11H166V555.6ZM166,555.6V515.25H166.5V555.6ZM166.5,555.6V506.02H167V555.6ZM167,555.6V515.25H167.5V555.6ZM167.5,555.6V494.86H168V555.6ZM168,555.6V504.05H168.5V555.6ZM168.5,555.6V504.78H169V555.6ZM169,555.6V500.1H169.5V555.6ZM169.5,555.6V497.96H170V555.6ZM170,555.6V499.12H170.5V555.6ZM170.5,555.6V503.08H171V555.6ZM171,555.6V504.11H171.5V555.6ZM171.5,555.6V506.93H172V555.6ZM172,555.6V508.61H172.5V555.6ZM172.5,555.6V511.76H173V555.6ZM173,555.6V511.8H173.5V555.6ZM173.5,555.6V510.87H174V555.6ZM174,555.6V511.27H174.5V555.6ZM174.5,555.6V513.85H175V555.6ZM175,555.6V516.93H175.5V555.6ZM175.5,555.6V522.38H176V555.6ZM176,555.6V523.59H176.5V555.6ZM176.5,555.6V517.87H177V555.6ZM177,555.6V517.2H177.5V555.6ZM177.5,555.6V514.21H178V555.6ZM178,555.6V510.82H178.5V555.6ZM178.5,555.6V520.54H179V555.6ZM179,555.6V514.93H179.5V555.6ZM179.5,555.6V504.82H180V555.6ZM180,555.6V510.07H180.5V555.6ZM180.5,555.6V496.08H181V555.6ZM181,555.6V510.2H181.5V555.6ZM181.5,555.6V492.74H182V555.6ZM182,555.6V483.92H182.5V555.6ZM182.5,555.6V477.32H183V555.6ZM183,555.6V462.44H183.5V555.6ZM183.5,555.6V438.52H184V555.6ZM184,555.6V436.15H184.5V555.6ZM184.5,555.6V448.79H185V555.6ZM185,555.6V454.8H185.5V555.6ZM185.5,555.6V464.4H186V555.6ZM186,555.6V465.15H186.5V555.6ZM186.5,555.6V473.37H187V555.6ZM187,555.6V482.57H187.5V555.6ZM187.5,555.6V482.78H188V555.6ZM188,555.6V487.27H188.5V555.6ZM188.5,555.6V489.67H189V555.6ZM189,555.6V497.12H189.5V555.6ZM189.5,555.6V509.42H190V555.6ZM190,555.6V501.26H190.5V555.6ZM190.5,555.6V504.28H191V555.6ZM191,555.6V506.5H191.5V555.6ZM191.5,555.6V505.04H192V555.6ZM192,555.6V501.18H192.5V555.6ZM192.5,555.6V494.45H193V555.6ZM193,555.6V494.07H193.5V555.6ZM193.5,555.6V493.02H194V555.6ZM194,555.6V498.58H194.5V555.6ZM194.5,555.6V485.76H195V555.6ZM195,555.6V498.69H195.5V555.6ZM195.5,555.6V480.45H196V555.6ZM196,555.6V473.74H196.5V555.6ZM196.5,555.6V468.33H197V555.6ZM197,555.6V466.06H197.5V555.6ZM197.5,555.6V461.82H198V555.6ZM198,555.6V461.24H198.5V555.6ZM198.5,555.6V458.19H199V555.6ZM199,555.6V454.45H199.5V555.6ZM199.5,555.6V451.56H200V555.6ZM200,555.6V455.98H200.5V555.6ZM200.5,555.6V477.34H201V555.6ZM201,555.6V458.67H201.5V555.6ZM201.5,555.6V464.73H202V555.6ZM202,555.6V487.92H202.5V555.6ZM202.5,555.6V474.89H203V555.6ZM203,555.6V480.15H203.5V555.6ZM203.5,555.6V496.53H204V555.6ZM204,555.6V485.22H204.5V555.6ZM204.5,555.6V486.48H205V555.6ZM205,555.6V492.69H205.5V555.6ZM205.5,555.6V490.55H206V555.6ZM206,555.6V491.26H206.5V555.6ZM206.5,555.6V491.24H207V555.6ZM207,555.6V495.05H207.5V555.6ZM207.5,555.6V498.27H208V555.6ZM208,555.6V504.15H208.5V555.6ZM208.5,555.6V507.09H209V555.6ZM209,555.6V510.3H209.5V555.6ZM209.5,555.6V515.59H210V555.6ZM210,555.6V519.69H210.5V555.6ZM210.5,555.6V529.83H211V555.6ZM211,555.6V523.42H211.5V555.6ZM211.5,555.6V527.48H212V555.6ZM212,555.6V530H212.5V555.6ZM212.5,555.6V537.82H213V555.6ZM213,555.6V534.95H213.5V555.6ZM213.5,555.6V536.15H214V555.6ZM214,555.6V531.46H214.5V555.6ZM214.5,555.6V521.2H215V555.6ZM215,555.6V510.57H215.5V555.6ZM215.5,555.6V502.28H216V555.6ZM216,555.6V494.68H216.5V555.6ZM216.5,555.6V483.08H217V555.6ZM217,555.6V475.6H217.5V555.6ZM217.5,555.6V471.18H218V555.6ZM218,555.6V492.41H218.5V555.6ZM218.5,555.6V489.04H219V555.6ZM219,555.6V510.54H219.5V555.6ZM219.5,555.6V504.27H220V555.6ZM220,555.6V510.78H220.5V555.6ZM220.5,555.6V516.23H221V555.6ZM221,555.6V520.18H221.5V555.6ZM221.5,555.6V521.12H222V555.6ZM222,555.6V524.04H222.5V555.6ZM222.5,555.6V515.26H223V555.6ZM223,555.6V515.06H223.5V555.6ZM223.5,555.6V520.49H224V555.6ZM224,555.6V527.77H224.5V555.6ZM224.5,555.6V536.32H225V555.6ZM225,555.6V532.06H225.5V555.6ZM225.5,555.6V533.36H226V555.6ZM226,555.6V536.58H226.5V555.6ZM226.5,555.6V541.02H227V555.6ZM227,555.6V544.3H227.5V555.6ZM227.5,555.6V544.57H228V555.6ZM228,555.6V544.27H228.5V555.6ZM228.5,555.6V543.09H229V555.6ZM229,555.6V544H229.5V555.6ZM229.5,555.6V546.77H230V555.6ZM230,555.6V547.17H230.5V555.6ZM230.5,555.6V549.04H231V555.6ZM231,555.6V550.17H231.5V555.6ZM231.5,555.6V550.48H232V555.6ZM232,555.6V551.78H232.5V555.6ZM232.5,555.6V550.71H233V555.6ZM233,555.6V551.2H233.5V555.6ZM233.5,555.6V551.34H234V555.6ZM234,555.6V551.58H234.5V555.6ZM234.5,555.6V551.88H235V555.6ZM235,555.6V551.88H235.5V555.6ZM235.5,555.6V552.7H236V555.6ZM236,555.6V552.21H236.5V555.6ZM236.5,555.6V552.31H237V555.6ZM237,555.6V552.44H237.5V555.6ZM237.5,555.6V552.68H238V555.6ZM238,555.6V552.83H238.5V555.6ZM238.5,555.6V552.91H239V555.6ZM239,555.6V553.12H239.5V555.6ZM239.5,555.6V553.24H240V555.6ZM240,555.6V553.41H240.5V555.6ZM240.5,555.6V553.55H241V555.6ZM241,555.6V553.75H241.5V555.6ZM241.5,555.6V553.98H242V555.6ZM242,555.6V554.13H242.5V555.6ZM242.5,555.6V554.42H243V555.6ZM243,555.6V554.63H243.5V555.6ZM243.5,555.6V554.92H244V555.6ZM244,555.6V555.13H244.5V555.6ZM244.5,555.6V555.38H245V555.6Z" fill="#333333"/>
<rect x="121.2" y="513.5" width="0.45" height="42.1" fill="#333"/>
<rect x="136.2" y="512" width="0.45" height="43.6" fill="#333"/>
<rect x="145.2" y="493" width="0.45" height="62.6" fill="#333"/>
<rect x="168.2" y="489" width="0.45" height="66.6" fill="#333"/>
<rect x="174.2" y="503" width="0.45" height="52.6" fill="#333"/>
<rect x="185.3" y="446" width="0.45" height="109.6" fill="#333"/>
<rect x="186.3" y="458" width="0.45" height="97.6" fill="#333"/>
<rect x="193.2" y="487" width="0.45" height="68.6" fill="#333"/>
<rect x="207.2" y="484" width="0.45" height="71.6" fill="#333"/>
<rect x="176.5" y="517" width="0.45" height="38.6" fill="#333"/>
<path d="M35,555.6V555.39H36.3V555.68H37.6V555.62H38.9V555.5H40.2V555.32H41.5V555.64H42.8V555.63H44.1V555.42H45.4V555.4H46.7V555.21H48V555.04H49.3V555.24H50.6V555.35H51.9V555H53.2V555.43H54.5V555.05H55.8V555.03H57.1V554.88H58.4V555.47H59.7V555.28H61V555.34H62.3V555.15H63.6V554.74H64.9V554.91H66.2V555H67.5V551.66H68.8V552.42H70.1V551.74H71.4V551.46H72.7V552.12H74V551.31H75.3V552.14H76.6V551.56H77.9V551.62H79.2V551.33H80.5V550.33H81.8V548.7H83.1V547.34H84.4V547.57H85.7V545.44H87V545.43H88.3V543.26H89.6V543.7H90.9V542.3H92.2V540.77H93.5V539.54H94.8V537.93H96.1V537H97.4V534.55H98.7V534.02H100V533.49H101.3V531.64H102.6V525.72H103.9V525H105.2V521.91H106.5V518.82H107.8V515.42H109.1V512.46H110.4V511.4H111.7V507.91H113V505.08H114.3V503.26H115.6V502.25H116.9V500.66H118.2V497.72H119.5V494.52H120.8V490.61H122.1V486.97H123.4V479.79H124.7V476.18H126V471.31H127.3V475.34H128.6V471.44H129.9V465.07H131.2V458.5H132.5V453.05H133.8V446.45H135.1V442.94H136.4V438.28H137.7V433.13H139V430.9H140.3V431.36H141.6V450.63H142.9V444.9H144.2V423.66H145.5V417.33H146.8V415.78H148.1V421.99H149.4V428.28H150.7V439.99H152V438.89H153.3V433.04H154.6V434.24H155.9V437.49H157.2V443.84H158.5V453.55H159.8V462.75H161.1V464.22H162.4V462.99H163.7V466.33H165V463.27H166.3V464.35H167.6V465.32H168.9V462.78H170.2V465.14H171.5V464.32H172.8V463.69H174.1V462.31H175.4V460.09H176.7V458.34H178V457.17H179.3V455.05H180.6V453.83H181.9V452.6H183.2V451.9H184.5V453.06H185.8V449.99H187.1V448.16H188.4V444.5H189.7V444.73H191V451.57H192.3V453.5H193.6V454.36H194.9V453.6H196.2V451.82H197.5V450.6H198.8V448.86H200.1V448.77H201.4V452.33H202.7V448.08H204V445.34H205.3V441.17H206.6V440.27H207.9V439.07H209.2V436.17H210.5V447.78H211.8V428.76H213.1V422.13H214.4V423.44H215.7V434.68H217V432.75H218.3V419.6H219.6V419.87H220.9V419.9H222.2V430.79H223.5V449.73H224.8V465.23H226.1V483.06H227.4V491.61H228.7V501.78H230V509.75H231.3V517.2H232.6V526.23H233.9V531.43H235.2V537.33H236.5V542.14H237.8V546.33H239.1V548.73H240.4V551.32H241.7V553.7H243V554.71H244.3V554.71H245.6V555.44H246.9" fill="none" stroke="#e84a4a" stroke-width="0.55"/>
<path d="M35,555.6V555.85H36.3V555.32H37.6V555.2H38.9V555.75H40.2V555.21H41.5V555.12H42.8V555.4H44.1V555.17H45.4V555.47H46.7V555H48V555.43H49.3V554.97H50.6V555.11H51.9V555.28H53.2V555.08H54.5V555.19H55.8V555H57.1V554.51H58.4V555.04H59.7V554.79H61V554.55H62.3V554.42H63.6V554.85H64.9V554.61H66.2V554.82H67.5V551.74H68.8V551.91H70.1V551.35H71.4V551.39H72.7V551.19H74V550.66H75.3V551.39H76.6V550.5H77.9V550.97H79.2V551.08H80.5V549.27H81.8V546.99H83.1V546.82H84.4V545.28H85.7V543.16H87V541.71H88.3V541.51H89.6V539.3H90.9V539.74H92.2V537.55H93.5V536.22H94.8V534.71H96.1V534.05H97.4V533.34H98.7V531.06H100V530.61H101.3V530.5H102.6V521.03H103.9V521.3H105.2V519.6H106.5V516.88H107.8V513.13H109.1V509.74H110.4V506.61H111.7V506.81H113V504.06H114.3V502.91H115.6V499.37H116.9V497.67H118.2V496.09H119.5V489.53H120.8V484.16H122.1V477.62H123.4V472.62H124.7V449.34H126V463.68H127.3V461.76H128.6V459.78H129.9V456.48H131.2V450.84H132.5V445.07H133.8V443.42H135.1V438.69H136.4V431.26H137.7V425.38H139V422.33H140.3V421.42H141.6V426.7H142.9V433.72H144.2V404.3H145.5V396.23H146.8V391.7H148.1V395.07H149.4V400.79H150.7V413.34H152V417.21H153.3V411.72H154.6V407.57H155.9V411.66H157.2V422.07H158.5V436.09H159.8V450.88H161.1V455.86H162.4V459.3H163.7V459.88H165V452.7H166.3V448.98H167.6V451.38H168.9V453.14H170.2V455.08H171.5V453.68H172.8V451.71H174.1V452.94H175.4V450.21H176.7V448.89H178V444.54H179.3V442.1H180.6V441.63H181.9V444.83H183.2V449.91H184.5V445.42H185.8V435.87H187.1V427.59H188.4V422.7H189.7V431.26H191V439.37H192.3V444.31H193.6V440.35H194.9V435.49H196.2V429.22H197.5V430.74H198.8V433.78H200.1V435.27H201.4V432.43H202.7V428.74H204V425.4H205.3V424.16H206.6V422.54H207.9V420.47H209.2V418.65H210.5V417.19H211.8V414.77H213.1V411.57H214.4V409.08H215.7V408.82H217V404.28H218.3V390.82H219.6V399.26H220.9V406.33H222.2V420.13H223.5V441.72H224.8V458.17H226.1V463.96H227.4V493.53H228.7V497.17H230V503.6H231.3V509.68H232.6V520.05H233.9V528H235.2V535.78H236.5V540.46H237.8V544.64H239.1V549.07H240.4V551.1H241.7V552.35H243V553.9H244.3V554.11H245.6V553.74H246.9V554.24H248.2V554.31H249.5V553.97H250.8V553.16H252.1V553.88H253.4V554.51H254.7V554.27H256V554.34H257.3V554.25H258.6" fill="none" stroke="#4a86d0" stroke-width="0.55"/>
<g stroke="#9a9a9a" stroke-width="0.6" stroke-dasharray="1.2 1">
<line x1="47.4" x2="47.4" y1="376.3" y2="563.0"/>
<line x1="59.5" x2="59.5" y1="376.3" y2="563.0"/>
<line x1="68.3" x2="68.3" y1="376.3" y2="563.0"/>
<line x1="83.5" x2="83.5" y1="376.3" y2="563.0"/>
<line x1="153.3" x2="153.3" y1="376.3" y2="563.0"/>
<line x1="184.5" x2="184.5" y1="376.3" y2="563.0"/>
<line x1="202.3" x2="202.3" y1="376.3" y2="563.0"/>
<line x1="241.4" x2="241.4" y1="376.3" y2="563.0"/>
</g>
<rect x="35.8" y="380.8" width="26.2" height="8.6" rx="1.3" fill="#fff" stroke="#555" stroke-width="0.6"/>
<text transform="translate(37.3,387.6) scale(0.9,1)" font-size="6.1" fill="#222">p = 0.04</text>
<rect x="50.6" y="380.8" width="15.4" height="8.6" rx="1.3" fill="#fff" stroke="#555" stroke-width="0.6"/>
<text transform="translate(52.1,387.6) scale(0.9,1)" font-size="6.1" fill="#222">p = 0.05</text>
<rect x="64" y="380.8" width="52.2" height="8.6" rx="1.3" fill="#fff" stroke="#555" stroke-width="0.6"/>
<text x="114.6" y="387.6" font-size="6.1" fill="#222" text-anchor="end" textLength="49.5" lengthAdjust="spacingAndGlyphs">p = 0.000000000001</text>
<rect x="57.2" y="380.8" width="23.3" height="8.6" rx="1.3" fill="#fff" stroke="#555" stroke-width="0.6"/>
<text transform="translate(58.7,387.6) scale(0.9,1)" font-size="6.1" fill="#222">p = 0.07</text>
<rect x="141.9" y="380.8" width="23.2" height="8.6" rx="1.3" fill="#fff" stroke="#555" stroke-width="0.6"/>
<text transform="translate(143.4,387.6) scale(0.9,1)" font-size="6.1" fill="#222">p = 0.03</text>
<rect x="172.2" y="380.8" width="27.8" height="8.6" rx="1.3" fill="#fff" stroke="#555" stroke-width="0.6"/>
<text transform="translate(173.7,387.6) scale(0.9,1)" font-size="6.1" fill="#222">p = 0.03</text>
<rect x="191.9" y="380.8" width="20.2" height="8.6" rx="1.3" fill="#fff" stroke="#555" stroke-width="0.6"/>
<text transform="translate(193.4,387.6) scale(0.9,1)" font-size="6.1" fill="#222">p = 0.1</text>
<rect x="229.8" y="380.8" width="23.5" height="8.6" rx="1.3" fill="#fff" stroke="#555" stroke-width="0.6"/>
<text transform="translate(231.3,387.6) scale(0.9,1)" font-size="6.1" fill="#222">p = 0.03</text>
<rect x="275.6" y="405" width="8.6" height="18" fill="#fff"/>
<line x1="275.9" x2="283.4" y1="409.5" y2="409.5" stroke="#f8766d" stroke-width="0.6"/>
<line x1="275.9" x2="283.4" y1="418.4" y2="418.4" stroke="#619cff" stroke-width="0.6"/>
<text x="286.9" y="411.4" font-size="4.9" fill="#333">q0.9</text>
<text x="286.9" y="420.3" font-size="4.9" fill="#333">q0.95</text>
</g>
<g fill="none" stroke="#999" stroke-width="1">
<rect x="21.4" y="3.5" width="295.1" height="559.5"/>
<line x1="21.4" x2="316.5" y1="184.7" y2="184.7" stroke="#aaa" stroke-width="1.2"/>
<line x1="21.4" x2="316.5" y1="376.3" y2="376.3" stroke="#aaa" stroke-width="1.2"/>
</g>
<g stroke="#555" stroke-width="0.6">
<line x1="19.6" x2="21.4" y1="35" y2="35"/>
<line x1="19.6" x2="21.4" y1="82.2" y2="82.2"/>
<line x1="19.6" x2="21.4" y1="129.4" y2="129.4"/>
<line x1="19.6" x2="21.4" y1="176.6" y2="176.6"/>
<line x1="19.6" x2="21.4" y1="219.2" y2="219.2"/>
<line x1="19.6" x2="21.4" y1="269.54" y2="269.54"/>
<line x1="19.6" x2="21.4" y1="319.88" y2="319.88"/>
<line x1="19.6" x2="21.4" y1="370.22" y2="370.22"/>
<line x1="19.6" x2="21.4" y1="555.6" y2="555.6"/>
<line x1="19.6" x2="21.4" y1="499.3" y2="499.3"/>
<line x1="19.6" x2="21.4" y1="443" y2="443"/>
<line x1="19.6" x2="21.4" y1="386.7" y2="386.7"/>
<line x1="34.5" x2="34.5" y1="563.0" y2="564.6"/>
<line x1="34.5" x2="34.5" y1="184.2" y2="185.2" stroke-width="0.8"/>
<line x1="124.2" x2="124.2" y1="563.0" y2="564.6"/>
<line x1="124.2" x2="124.2" y1="184.2" y2="185.2" stroke-width="0.8"/>
<line x1="213.9" x2="213.9" y1="563.0" y2="564.6"/>
<line x1="213.9" x2="213.9" y1="184.2" y2="185.2" stroke-width="0.8"/>
<line x1="303.6" x2="303.6" y1="563.0" y2="564.6"/>
<line x1="303.6" x2="303.6" y1="184.2" y2="185.2" stroke-width="0.8"/>
</g>
<g font-size="4.9" fill="#5a5a5a" text-anchor="end">
<text x="19.3" y="37.5">-8</text>
<text x="19.3" y="84.7">-6</text>
<text x="19.3" y="131.9">-4</text>
<text x="19.3" y="179.1">-2</text>
<text x="19.3" y="221.7">-8</text>
<text x="19.3" y="272.04">-6</text>
<text x="19.3" y="322.38">-4</text>
<text x="19.3" y="372.72">-2</text>
<text x="19.3" y="558.1">0.00</text>
<text x="19.3" y="501.8">0.05</text>
<text x="19.3" y="445.5">0.10</text>
<text x="19.3" y="389.2">0.15</text>
</g>
<g font-size="4.9" fill="#5a5a5a" text-anchor="middle">
<text x="34.5" y="570">10000</text>
<text x="124.2" y="570">9000</text>
<text x="213.9" y="570">8000</text>
<text x="303.6" y="570">7000</text>
</g>
<g font-size="5.6" fill="#222" text-anchor="middle">
<text x="168.8" y="576.8">age (yr BP)</text>
<text transform="translate(7.9,94) rotate(-90)">d18O, permil</text>
<text transform="translate(7.9,281.5) rotate(-90)">d18O (permil)</text>
<text transform="translate(8.3,469.5) rotate(-90)">Shift Frequency</text>
</g>
</svg>
</body></html>
